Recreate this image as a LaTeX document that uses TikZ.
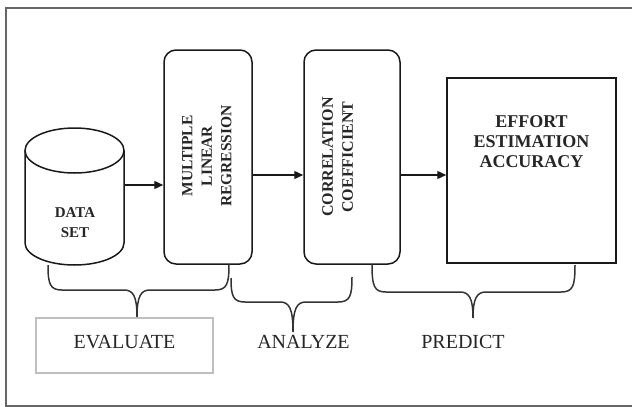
\documentclass[tikz,border=0pt]{standalone}
\usepackage{fontspec}
\setmainfont{Liberation Serif}
\usetikzlibrary{arrows.meta}
\newcommand{\mybrace}[7]{%
  \draw[bracestyle] (#1,#2) .. controls (#1,{#5-6}) and ({#1+2},#5) .. ({#1+14},#5)
    -- ({#6-13},#5) .. controls ({#6-4},#5) and (#6,{#5+6}) .. (#6,#7)
    .. controls (#6,{#5+6}) and ({#6+4},#5) .. ({#6+13},#5)
    -- ({#3-14},#5) .. controls ({#3-2},#5) and (#3,{#5-6}) .. (#3,#4);}
\begin{document}
\begin{tikzpicture}[x=1pt,y=-1pt,
  boxline/.style={line width=1.5pt, draw=black!90},
  procbox/.style={boxline, rounded corners=12pt, inner sep=0pt},
  plainbox/.style={boxline, inner sep=0pt},
  arr/.style={line width=1.4pt, draw=black!90, -{Triangle[length=9pt,width=8pt]}},
  bracestyle/.style={line width=1.5pt, draw=black!80},
  boldtxt/.style={inner sep=0pt, align=center, text=black!85, font=\bfseries},
  lbl/.style={inner sep=0pt, text=black!85, font=\fontsize{20}{22}\selectfont},
]
\useasboundingbox (0,0) rectangle (632,407);
\clip (0,0) rectangle (632,407);
\fill[white] (0,0) rectangle (632,407);
% outer frame
\draw[line width=2pt, black!60] (6,420) -- (6,8) -- (645,8);
\draw[line width=2pt, black!60] (6,406) -- (645,406);

% cylinder (data set)
\draw[boxline] (25,150.5) -- (25,243) arc[start angle=180, end angle=0, x radius=49.5, y radius=22] -- (124,150.5);
\draw[boxline] (74.5,150.5) ellipse[x radius=49.5, y radius=22.5];
\node[inner sep=0pt, minimum width=99pt, minimum height=137pt] (ds) at (74.5,196.5) {};
\node[boldtxt, font=\fontsize{15}{20}\selectfont\bfseries, anchor=north] (dstxt) at (75,207) {DATA\\SET};

% process boxes
\node[procbox, minimum width=88pt, minimum height=214pt] (mlr) at (208,157) {};
\node[boldtxt, font=\fontsize{15.5}{19.5}\selectfont\bfseries, rotate=90, anchor=north] (mlrtxt) at (182,156) {MULTIPLE\\LINEAR\\REGRESSION};
\node[procbox, minimum width=96pt, minimum height=214pt] (cc) at (352,157) {};
\node[boldtxt, font=\fontsize{16}{20}\selectfont\bfseries, rotate=90, anchor=north] (cctxt) at (322,157) {CORRELATION\\COEFFICIENT};
\node[plainbox, minimum width=169pt, minimum height=185pt] (eff) at (531.5,170.5) {};
\node[boldtxt, font=\fontsize{18}{20}\selectfont\bfseries, anchor=north] (efftxt) at (531.5,115) {EFFORT\\ESTIMATION\\ACCURACY};

% arrows
\path ([yshift=11.5pt]ds.east) coordinate (s1);
\draw[arr] (s1) -- (s1 -| mlr.west);
\draw[arr] ([yshift=-18pt]mlr.east) -- ([yshift=-18pt]cc.west);
\draw[arr] ([yshift=-18pt]cc.east) -- ([yshift=-4.5pt]eff.west);

% braces
\mybrace{48}{265}{229}{264}{290}{137}{317}
\mybrace{231}{278}{352}{277}{302}{293}{332}
\mybrace{372}{264}{575}{265}{292}{473}{318}

% bottom labels
\node[lbl, draw=black!25, line width=2pt, minimum width=177pt, text height=30pt, text depth=25pt, anchor=base] (ev) at (124.5,348) {EVALUATE};
\node[lbl, anchor=base] (an) at (303.5,348) {ANALYZE};
\node[lbl, anchor=base] (pr) at (463,348) {PREDICT};
\end{tikzpicture}
\end{document}
